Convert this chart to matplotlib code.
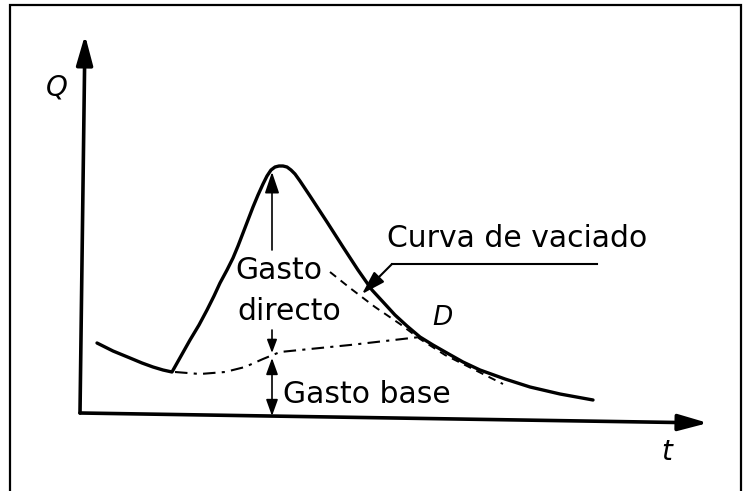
import matplotlib
matplotlib.use("Agg")
import matplotlib.pyplot as plt

t_hydro = [17, 33, 50, 62, 73, 83, 92,
           101, 110, 119, 127, 134, 140, 147, 153, 158, 163, 168, 173, 178, 183,
           187, 191, 195, 199, 203, 207, 211, 215, 220,
           230, 247, 263, 278, 292, 304, 315, 327, 340, 353, 367, 383, 400, 425,
           450, 480, 513]
q_hydro = [70, 62, 55, 50, 46, 43, 41,
           57, 73, 88, 103, 117, 130, 143, 155, 167, 180, 193, 206, 218, 229,
           237, 243, 246, 247, 247, 246, 243, 239, 232,
           217, 191, 166, 143, 123, 110, 98, 87, 76, 68, 60, 51, 43, 34,
           26, 19, 13]

# recession (depletion) curve extended backwards
t_reces = [250, 270, 295, 320, 340, 365, 395, 423]
q_reces = [141, 125, 106, 89, 74, 58, 43, 29]

# base flow separation line up to point D
t_base = [95, 120, 145, 165, 183, 200, 270, 340]
q_base = [41, 39, 41, 46, 54, 61, 68, 76]

# leader line for the "Curva de vaciado" label
t_leader = [517, 312, 282]
q_leader = [149, 149, 119]

t_peak = 192          # time of the peak arrows
q_peak_arrow = [163, 241]
q_direct_gap = [83, 60]
q_base_arrow = [55, -3]

fig = plt.figure(figsize=(7.51, 4.91), dpi=100)
ax = fig.add_axes([0, 0, 1, 1])
ax.set_xlim(-80, 671)
ax.set_ylim(-78, 413)
ax.axis("off")

# frame around the drawing (open at the bottom)
ax.plot([-70, -70, 661, 661], [-80, 408, 408, -80], color="black", lw=1.6,
        solid_joinstyle="miter")

# axes with arrow heads
ax.annotate("", xy=(5, 378), xytext=(0, 0),
            arrowprops=dict(arrowstyle="-|>,head_length=0.9,head_width=0.25",
                            lw=2.6, color="black", mutation_scale=20,
                            shrinkA=0, shrinkB=0))
ax.annotate("", xy=(628, -10), xytext=(0, 0),
            arrowprops=dict(arrowstyle="-|>,head_length=0.9,head_width=0.25",
                            lw=2.6, color="black", mutation_scale=20,
                            shrinkA=0, shrinkB=0))

ax.plot(t_hydro, q_hydro, color="black", lw=2.4, solid_joinstyle="round",
        solid_capstyle="round")
ax.plot(t_reces, q_reces, color="black", lw=1.4, linestyle=(0, (4, 3)))
ax.plot(t_base, q_base, color="black", lw=1.5, linestyle=(0, (6, 3, 1.5, 3)))

# peak flow arrow
ax.annotate("", xy=(t_peak, q_peak_arrow[1]), xytext=(t_peak, q_peak_arrow[0]),
            arrowprops=dict(arrowstyle="-|>,head_length=0.65,head_width=0.22",
                            lw=1.2, color="black", mutation_scale=20,
                            shrinkA=0, shrinkB=0))
ax.annotate("", xy=(t_peak, q_direct_gap[1]), xytext=(t_peak, q_direct_gap[0]),
            arrowprops=dict(arrowstyle="-|>,head_length=0.4,head_width=0.15",
                            lw=1.2, color="black", mutation_scale=20,
                            shrinkA=0, shrinkB=0))
ax.annotate("", xy=(t_peak, q_base_arrow[1]), xytext=(t_peak, q_base_arrow[0]),
            arrowprops=dict(arrowstyle="<|-|>,head_length=0.5,head_width=0.18",
                            lw=1.2, color="black", mutation_scale=20,
                            shrinkA=0, shrinkB=0))

# label leader
ax.plot(t_leader[:2], q_leader[:2], color="black", lw=1.5)
ax.annotate("", xy=(t_leader[2], q_leader[2]), xytext=(t_leader[1], q_leader[1]),
            arrowprops=dict(arrowstyle="-|>,head_length=0.72,head_width=0.22",
                            lw=1.5, color="black", mutation_scale=20,
                            shrinkA=0, shrinkB=0))

fs = 21.5
ax.text(307, 166, "Curva de vaciado", fontsize=fs, va="baseline", ha="left")
ax.text(155, 134, "Gasto", fontsize=fs, va="baseline", ha="left")
ax.text(157, 93, "directo", fontsize=fs, va="baseline", ha="left")
ax.text(203, 10, "Gasto base", fontsize=fs, va="baseline", ha="left")
ax.text(362, 95, "D", fontsize=19, style="italic", va="center", ha="center")
ax.text(-23, 326, "Q", fontsize=20, style="italic", va="center", ha="center")
ax.text(587, -39, "t", fontsize=20, style="italic", va="center", ha="center")

fig.savefig("out.png", dpi=100)
